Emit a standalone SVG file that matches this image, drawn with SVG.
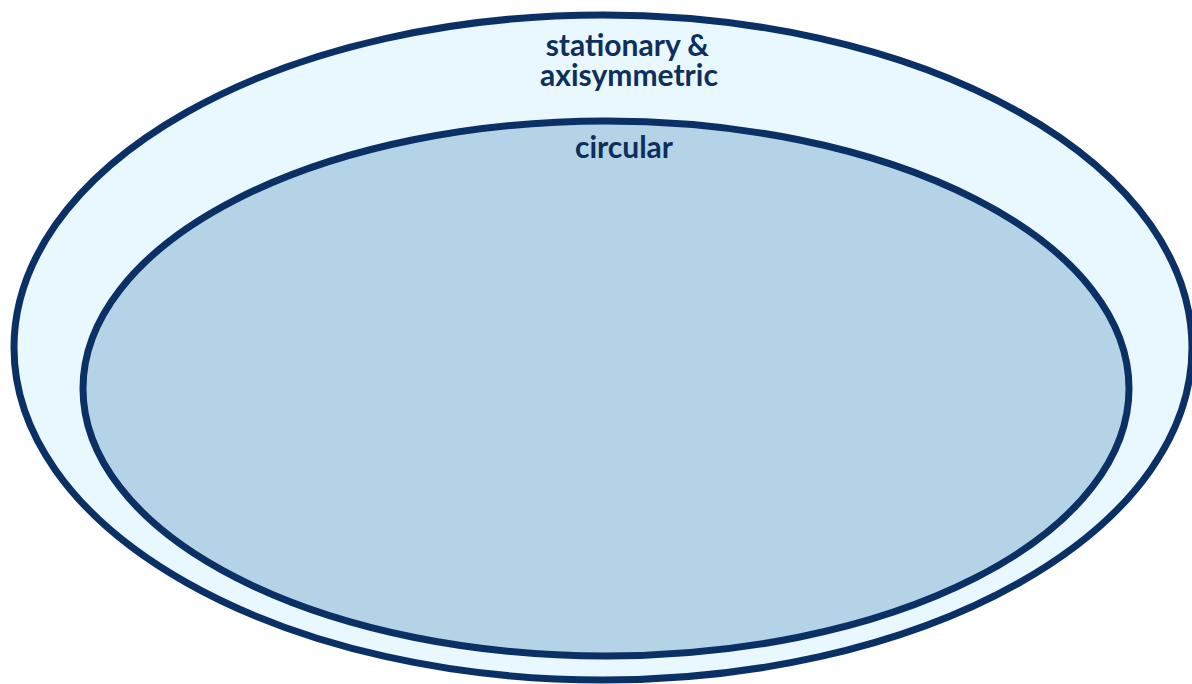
<svg xmlns="http://www.w3.org/2000/svg" width="1192" height="684" viewBox="0 0 1192 684">
  <style>
    .set { stroke: #0a3066; stroke-width: 7; }
    .label { font-family: Lato, "Open Sans", sans-serif; font-weight: 700; font-size: 30px; fill: #0e2f5c; text-anchor: middle; }
  </style>
  <rect width="1192" height="684" fill="#ffffff"/>
  <g id="stationary-axisymmetric">
    <ellipse class="set" cx="603" cy="347.5" rx="589" ry="332.5" fill="#e8f8fe"/>
    <!-- two-line set label -->
    <text class="label">
      <tspan x="631" y="56">stationary &amp;</tspan>
      <tspan x="629" y="86">axisymmetric</tspan>
    </text>
  </g>
  <g id="circular">
    <ellipse class="set" cx="606" cy="388.5" rx="523" ry="267.5" fill="#b5d3e6"/>
    <text class="label" x="624" y="158">circular</text>
  </g>
  <g id="connectors"/>
</svg>
